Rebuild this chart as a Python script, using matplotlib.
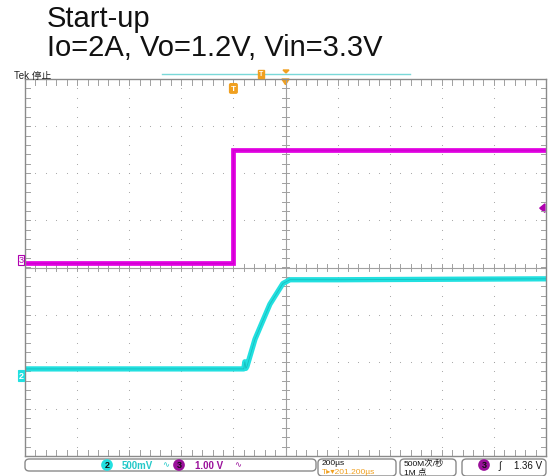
import numpy as np
import matplotlib.pyplot as plt
from matplotlib.patches import FancyBboxPatch, Polygon

plt.rcParams['font.family'] = ['Liberation Sans', 'Noto Sans CJK SC', 'DejaVu Sans']

# 200 us/div horizontal, traces in volts
t_div_us = 200
ch3_scale = 1.0      # V/div  (Vin)
ch2_scale = 0.5      # V/div  (Vo)
ch3_offset = 0.16    # div
ch2_offset = -2.3    # div

vin_t = [-1000, -200, -200, 1000]
vin_v = [-0.06, -0.06, 2.34, 2.34]

vo_t = [-1000, -160, -156, -152, -148, -117, -60, -10, 17, 200, 1000]
vo_v = [0.074, 0.074, 0.15, 0.08, 0.10, 0.39, 0.76, 0.98, 1.02, 1.02, 1.03]

title_lines = ["Start-up", "Io=2A, Vo=1.2V, Vin=3.3V"]

fig = plt.figure(figsize=(5.54, 4.77), dpi=100)
ax = fig.add_axes([25/554, 20/477, 521/554, 377/477])
ax.set_xlim(-5, 5)
ax.set_ylim(-4, 4)
ax.set_xticks([])
ax.set_yticks([])
for s in ax.spines.values():
    s.set_color('#8a8a8a')
    s.set_linewidth(1.0)

grid_c = '#a0a0a0'
minor = np.arange(-5, 5.01, 0.2)
minor_y = np.arange(-4, 4.01, 0.2)
# dotted graticule
for gx in range(-4, 5):
    if gx == 0:
        continue
    ax.scatter(np.full(minor_y.size, gx), minor_y, s=0.6, color=grid_c, lw=0)
for gy in range(-3, 4):
    if gy == 0:
        continue
    ax.scatter(minor, np.full(minor.size, gy), s=0.6, color=grid_c, lw=0)
# center cross with ticks
ax.axhline(0, color=grid_c, lw=0.8)
ax.axvline(0, color=grid_c, lw=0.8)
for m in minor:
    ax.plot([m, m], [-0.07, 0.07], color=grid_c, lw=0.7)
    ax.plot([m, m], [-4, -3.88], color=grid_c, lw=0.7)
    ax.plot([m, m], [4, 3.88], color=grid_c, lw=0.7)
for m in minor_y:
    ax.plot([-0.07, 0.07], [m, m], color=grid_c, lw=0.7)
    ax.plot([-5, -4.9], [m, m], color=grid_c, lw=0.7)
    ax.plot([5, 4.9], [m, m], color=grid_c, lw=0.7)

vin_x = np.array(vin_t) / t_div_us
vin_y = np.array(vin_v) / ch3_scale + ch3_offset
vo_x = np.array(vo_t) / t_div_us
vo_y = np.array(vo_v) / ch2_scale + ch2_offset

ax.plot(vin_x, vin_y, color='#e100e1', lw=3.4, solid_joinstyle='miter')
ax.plot(vin_x, vin_y, color='#c000c0', lw=0.6, alpha=0.6)
ax.plot(vo_x, vo_y, color='#22e0e0', lw=3.8)
ax.plot(vo_x, vo_y, color='#10a8a8', lw=0.6, alpha=0.6)

# ground markers on left edge
ax.text(-5.03, ch3_offset, '3', color='#b000b0', fontsize=6.5, ha='right', va='center',
        bbox=dict(boxstyle='square,pad=0.1', fc='white', ec='#b000b0', lw=0.8), clip_on=False)
ax.text(-5.03, ch2_offset, '2', color='white', fontsize=6.5, ha='right', va='center', fontweight='bold',
        bbox=dict(boxstyle='square,pad=0.1', fc='#22e0e0', ec='#22e0e0', lw=0.8), clip_on=False)
# trigger level marker on right edge
trig_y = 1.26
ax.add_patch(Polygon([[4.88, trig_y], [4.98, trig_y + 0.09], [4.98, trig_y - 0.09]],
                     closed=True, color='#b000b0', clip_on=False))
# trigger position marker
ax.text(-1.0, 3.8, 'T', color='white', fontsize=6, ha='center', va='center', fontweight='bold',
        bbox=dict(boxstyle='round,pad=0.15', fc='#f0a020', ec='#f0a020'))
ax.add_patch(Polygon([[-0.07, 4.0], [0.07, 4.0], [0, 3.88]], closed=True, color='#f0a020', clip_on=False))

# top bar
fig.text(14/554, 1 - 76/477, 'Tek 停止', fontsize=7, ha='left', va='center', color='#222222')
fig.add_artist(plt.Line2D([162/554, 410/554], [1 - 75/477] * 2, color='#7ad8d8', lw=1.0))
fig.text(261/554, 1 - 75/477, 'T', color='white', fontsize=5, ha='center', va='center', fontweight='bold',
         bbox=dict(boxstyle='square,pad=0.1', fc='#f0a020', ec='#f0a020'))
fig.add_artist(Polygon([[283/554, 1 - 71/477], [289/554, 1 - 71/477], [286/554, 1 - 74/477]],
                       closed=True, color='#f0a020'))

title_y = [19, 48]
for line, y in zip(title_lines, title_y):
    fig.text(47/554, 1 - y/477, line, fontsize=21, ha='left', va='center', color='#111111')

# bottom status bar
def box(x0, x1, y0, y1):
    fig.add_artist(FancyBboxPatch((x0/554, 1 - y1/477), (x1 - x0)/554, (y1 - y0)/477,
                                  boxstyle='round,pad=0,rounding_size=0.008',
                                  fc='none', ec='#8a8a8a', lw=1.0, transform=fig.transFigure))

box(25, 316, 460, 472)
box(318, 396, 460, 477)
box(400, 456, 460, 477)
box(462, 546, 460, 477)

yb = 1 - 466/477
fig.text(107/554, yb, '2', color='#111111', fontsize=6.5, ha='center', va='center', fontweight='bold',
         bbox=dict(boxstyle='circle,pad=0.15', fc='#22e0e0', ec='none'))
fig.text(122/554, yb, '500mV', color='#22c8c8', fontsize=7, ha='left', va='center', fontweight='bold')
fig.text(162/554, yb, '∿', color='#22c8c8', fontsize=6, ha='left', va='center')
fig.text(179/554, yb, '3', color='#111111', fontsize=6.5, ha='center', va='center', fontweight='bold',
         bbox=dict(boxstyle='circle,pad=0.15', fc='#9a109a', ec='none'))
fig.text(195/554, yb, '1.00 V', color='#9a109a', fontsize=7, ha='left', va='center', fontweight='bold')
fig.text(234/554, yb, '∿', color='#9a109a', fontsize=6, ha='left', va='center')
fig.text(322/554, 1 - 463.5/477, '200µs', color='#111111', fontsize=6, ha='left', va='center')
fig.text(322/554, 1 - 472.5/477, 'T▸▾201.200µs', color='#f0a020', fontsize=6, ha='left', va='center')
fig.text(404/554, 1 - 463.5/477, '500M次/秒', color='#111111', fontsize=6, ha='left', va='center')
fig.text(404/554, 1 - 472.5/477, '1M 点', color='#111111', fontsize=6, ha='left', va='center')
fig.text(484/554, yb, '3', color='#111111', fontsize=6.5, ha='center', va='center', fontweight='bold',
         bbox=dict(boxstyle='circle,pad=0.15', fc='#9a109a', ec='none'))
fig.text(498/554, yb, '∫', color='#111111', fontsize=7, ha='left', va='center')
fig.text(542/554, yb, '1.36 V', color='#111111', fontsize=7, ha='right', va='center')

fig.savefig('out.png', dpi=100)
